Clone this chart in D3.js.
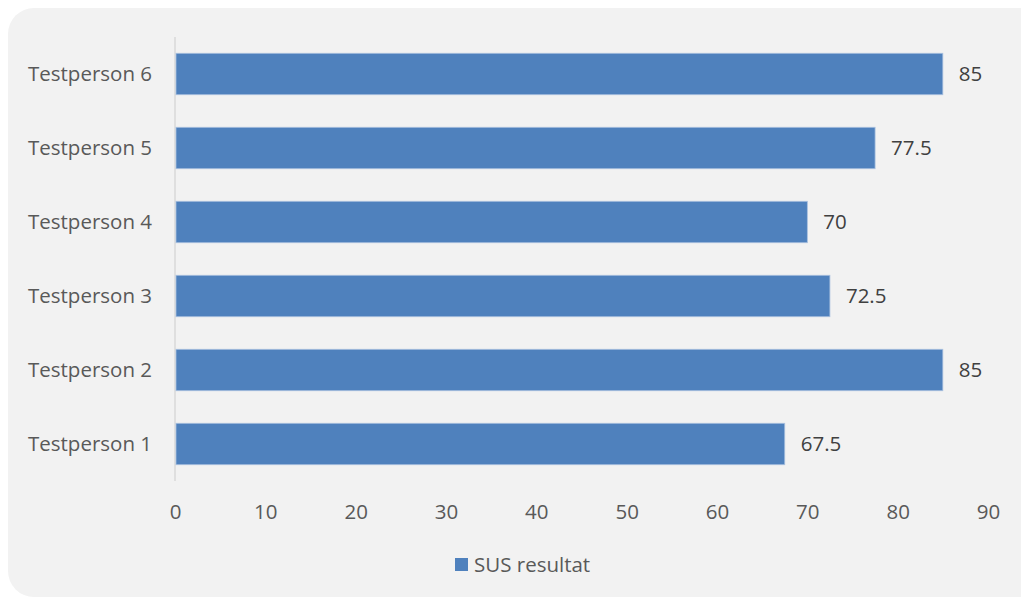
<!DOCTYPE html>
<html>
<head>
<meta charset="utf-8">
<script src="https://cdn.jsdelivr.net/npm/d3@7"></script>
<style>
html,body{margin:0;padding:0;background:#fff;}
svg{display:block;}
</style>
</head>
<body>
<svg id="chart" width="1021" height="598"></svg>
<script>
const categories = ["Testperson 1","Testperson 2","Testperson 3","Testperson 4","Testperson 5","Testperson 6"];
const values = [67.5, 85, 72.5, 70, 77.5, 85];
const valueLabels = ["67.5","85","72.5","70","77.5","85"];
const xTicks = [0,10,20,30,40,50,60,70,80,90];
const seriesName = "SUS resultat";

const svg = d3.select("#chart");
const font = "'Open Sans', sans-serif";
const fs = 20.5;

svg.append("rect").attr("x",8).attr("y",8).attr("width",1038).attr("height",589)
  .attr("rx",26).attr("ry",26).attr("fill","#f2f2f2");

const x = d3.scaleLinear().domain([0,90]).range([175,988]);
const y = d3.scaleBand().domain(categories.slice().reverse()).range([37,481])
  .paddingInner(0.44).paddingOuter(0.22);

svg.append("line").attr("x1",x(0)).attr("x2",x(0)).attr("y1",37).attr("y2",481)
  .attr("stroke","#d9d9d9").attr("stroke-width",1.5);

svg.selectAll("rect.bar").data(categories).enter().append("rect")
  .attr("class","bar")
  .attr("x",x(0)+1)
  .attr("y",d=>y(d))
  .attr("width",(d,i)=>x(values[i])-x(0)-1)
  .attr("height",y.bandwidth())
  .attr("fill","#4f81bd")
  .attr("stroke","#a9c0df").attr("stroke-width",0.8);

svg.selectAll("text.val").data(categories).enter().append("text")
  .attr("class","val")
  .attr("x",(d,i)=>x(values[i])+16)
  .attr("y",d=>y(d)+y.bandwidth()/2)
  .attr("dy","0.35em")
  .attr("font-family",font).attr("font-size",fs).attr("fill","#404040")
  .text((d,i)=>valueLabels[i]);

const yAxis = d3.axisLeft(y).tickSize(0).tickPadding(0);
const gy = svg.append("g").attr("transform",`translate(152,0)`).call(yAxis);
gy.select(".domain").remove();
gy.selectAll("text").attr("font-family",font).attr("font-size",fs).attr("fill","#595959");

const xAxis = d3.axisBottom(x).tickValues(xTicks).tickSize(0).tickPadding(0).tickFormat(d3.format("d"));
const gx = svg.append("g").attr("transform","translate(0,512)").call(xAxis);
gx.select(".domain").remove();
gx.selectAll("text").attr("font-family",font).attr("font-size",fs).attr("fill","#595959").attr("dy","0.35em");

const lg = svg.append("g");
lg.append("rect").attr("x",455).attr("y",558).attr("width",13).attr("height",13).attr("fill","#4f81bd");
lg.append("text").attr("x",474).attr("y",565).attr("dy","0.35em")
  .attr("font-family",font).attr("font-size",fs).attr("fill","#595959").text(seriesName);
</script>
</body>
</html>
